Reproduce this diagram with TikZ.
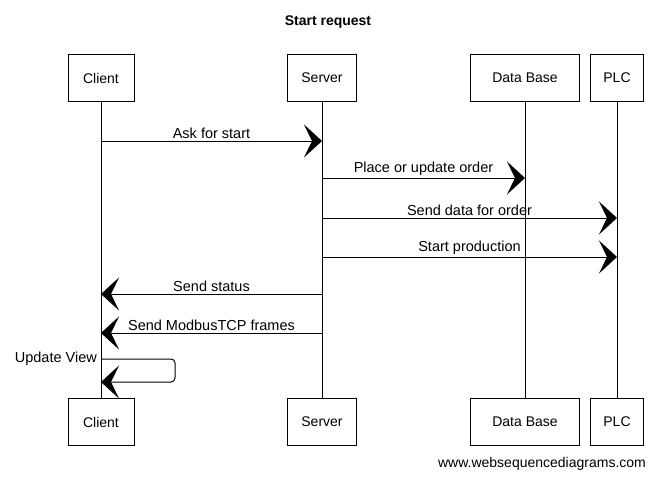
\documentclass[tikz,border=0pt]{standalone}
\usepackage{fontspec}
\setmainfont{Liberation Sans}
\usepackage{tikz}
\usetikzlibrary{arrows.meta,positioning}

\begin{document}
\begin{tikzpicture}[x=1pt, y=-1pt]
			\tikzstyle{Actor}	= [rectangle, draw, line width=1pt, minimum height=47pt, inner sep=0pt, font=\fontsize{14}{16}\selectfont]
			\tikzstyle{Life}	= [line width=0.8pt]
			\tikzstyle{Msg}		= [line width=1pt, -{Stealth[length=18pt, width=33pt, inset=8pt]}]
			\tikzstyle{Label}	= [font=\fontsize{14.5}{16}\selectfont, inner sep=1pt]
			
			\useasboundingbox (0, 0) rectangle (657, 479);
			
			\node (title) at (328, 22) [Label, font=\fontsize{14}{16}\selectfont\bfseries] {Start request};
			
			% actors, top and bottom
			\node (cT) at (101, 78) [Actor, minimum width=66pt] {Client};
			\node (sT) at (322, 78) [Actor, minimum width=69pt] {Server};
			\node (dT) at (525, 78) [Actor, minimum width=109pt] {Data Base};
			\node (pT) at (617, 78) [Actor, minimum width=53pt] {PLC};
			\node (cB) at (101, 422) [Actor, minimum width=66pt] {Client};
			\node (sB) at (322, 422) [Actor, minimum width=69pt] {Server};
			\node (dB) at (525, 422) [Actor, minimum width=109pt] {Data Base};
			\node (pB) at (617, 422) [Actor, minimum width=53pt] {PLC};
			
			\draw [-] (cT) to (cB) [Life];
			\draw [-] (sT) to (sB) [Life];
			\draw [-] (dT) to (dB) [Life];
			\draw [-] (pT) to (pB) [Life];
			
			% message end points
			\coordinate (c1) at (101, 141);
			\coordinate (s1) at (322, 141);
			\coordinate (s2) at (322, 178);
			\coordinate (d2) at (525, 178);
			\coordinate (s3) at (322, 218);
			\coordinate (p3) at (617, 218);
			\coordinate (s4) at (322, 257);
			\coordinate (p4) at (617, 257);
			\coordinate (s5) at (322, 294);
			\coordinate (c5) at (101, 294);
			\coordinate (s6) at (322, 333);
			\coordinate (c6) at (101, 333);
			\coordinate (c7) at (101, 359);
			\coordinate (c8) at (101, 382);
			
			\draw [Msg] (c1) to node [above, Label, yshift=1pt] {Ask for start} (s1);
			\draw [Msg] (s2) to node [above, Label, yshift=1pt] {Place or update order} (d2);
			\draw [Msg] (s3) to node [above, Label, yshift=1pt] {Send data for order} (p3);
			\draw [Msg] (s4) to node [above, Label, yshift=1pt] {Start production} (p4);
			\draw [Msg] (s5) to node [above, Label, yshift=1pt] {Send status} (c5);
			\draw [Msg] (s6) to node [above, Label, yshift=1pt] {Send ModbusTCP frames} (c6);
			\draw [Msg, rounded corners=4pt] (c7) -- (175, 359) -- (175, 382) -- (c8);
			\node (uv) [Label, left=3pt of c7] {Update View};
			
			\node (wsd) at (542, 464) [font=\fontsize{14}{16}\selectfont, inner sep=0pt] {www.websequencediagrams.com};
		\end{tikzpicture}
\end{document}
